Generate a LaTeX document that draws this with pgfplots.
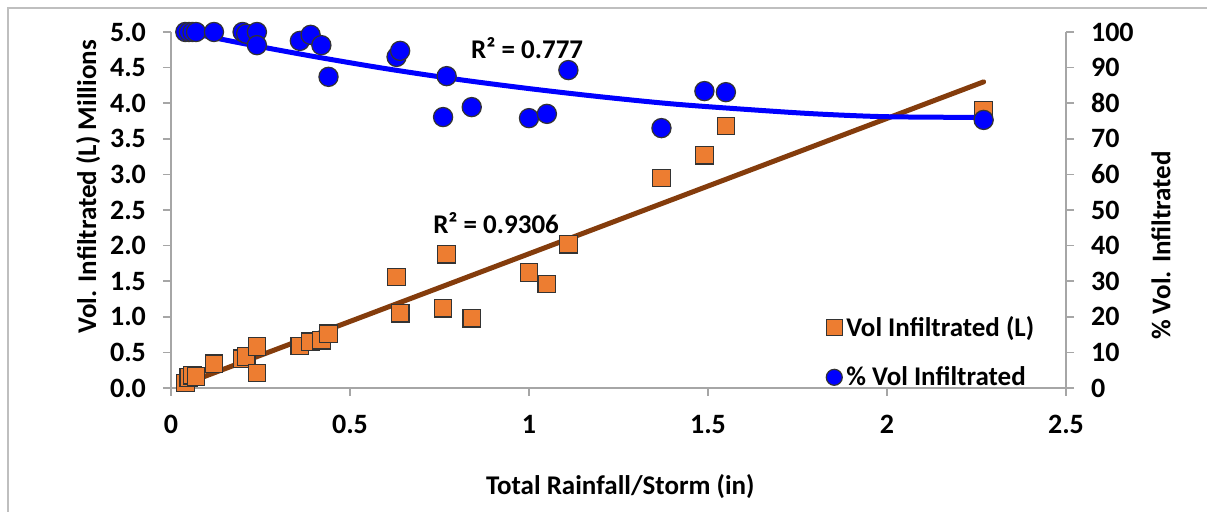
\documentclass[border=0pt]{standalone}
\usepackage{pgfplots}
\pgfplotsset{compat=1.18}
\usepackage{fontspec}
\setmainfont{Carlito}
\definecolor{sqfill}{HTML}{ED7D31}
\definecolor{trendbrown}{HTML}{843C0C}
\definecolor{axgray}{HTML}{A6A6A6}
\definecolor{framegray}{HTML}{BFBFBF}

\pgfplotstableread{
x vol
0.04 0.07
0.05 0.15
0.06 0.18
0.07 0.16
0.12 0.34
0.20 0.41
0.21 0.44
0.24 0.58
0.24 0.21
0.36 0.59
0.39 0.65
0.42 0.67
0.44 0.76
0.63 1.56
0.64 1.05
0.76 1.12
0.77 1.88
0.84 0.98
1.00 1.62
1.05 1.46
1.11 2.02
1.37 2.95
1.49 3.27
1.55 3.68
2.27 3.90
}\voldata

\pgfplotstableread{
x pct
0.04 100
0.05 100
0.06 100
0.07 100
0.12 100
0.20 100
0.21 99.5
0.24 100
0.24 96.3
0.36 97.5
0.39 99.2
0.42 96.3
0.44 87.4
0.63 93.0
0.64 94.7
0.76 76.1
0.77 87.6
0.84 78.9
1.00 75.8
1.05 77.0
1.11 89.3
1.37 73.0
1.49 83.4
1.55 83.1
2.27 75.3
}\pctdata

\begin{document}
\begin{tikzpicture}[font=\bfseries\fontsize{13.5}{16}\selectfont]
\useasboundingbox (0,0) rectangle (603.5pt,256pt);
\draw[framegray, line width=0.8pt] (4pt,0) -- (4pt,252pt) -- (603.5pt,252pt);

\pgfplotsset{
  common/.style={
    at={(85.5pt,62pt)}, anchor=south west, scale only axis,
    width=447.5pt, height=178pt,
    xmin=0, xmax=2.5, clip=false,
    tick align=outside, major tick length=4pt,
    every tick/.style={axgray, line width=0.8pt},
    axis line style={axgray, line width=0.8pt},
    /pgf/number format/assume math mode=true,
    tick label style={font=\bfseries\fontsize{14}{16}\selectfont, text=black},
    label style={font=\bfseries\fontsize{13.5}{16}\selectfont},
  }
}

\begin{axis}[common,
  axis x line*=bottom, axis y line*=left,
  ymin=0, ymax=5,
  xtick={0,0.5,1,1.5,2,2.5},
  ytick={0,0.5,1,1.5,2,2.5,3,3.5,4,4.5,5},
  yticklabel style={/pgf/number format/fixed, /pgf/number format/fixed zerofill,
    /pgf/number format/precision=1, xshift=-5pt},
  xticklabel style={yshift=-6pt},
  xlabel={Total Rainfall/Storm (in)},
  ylabel={Vol. Infiltrated (L) Millions},
  xlabel style={at={(axis description cs:0.502,-0.278)}, anchor=center},
  ylabel style={at={(axis description cs:-0.0927,0.565)}, anchor=center},
]
\addplot[only marks, mark=square*, mark size=4.4pt,
  mark options={fill=sqfill, draw=black!80, line width=0.6pt}] table[x=x, y=vol] {\voldata};
\addplot[trendbrown, line width=2.5pt, line cap=round] coordinates {(0.04,0.06) (2.27,4.30)};
\node at (axis cs:0.908,2.32) {R² = 0.9306};
\end{axis}

\begin{axis}[common,
  axis x line=none, axis y line*=right,
  ymin=0, ymax=100,
  ytick={0,10,20,30,40,50,60,70,80,90,100},
  yticklabel style={xshift=5pt},
  ylabel={\% Vol. Infiltrated},
  ylabel style={at={(axis description cs:1.106,0.40)}, anchor=center},
  legend style={at={(0.725,0.225)}, anchor=north west, draw=none, fill=none,
    row sep=9.5pt, font=\bfseries\fontsize{13.5}{16}\selectfont},
  legend cell align=left,
]
\addlegendimage{only marks, mark=square*, mark size=4pt, mark options={fill=sqfill, draw=black!80, line width=0.6pt}}
\addlegendentry{Vol Infiltrated (L)}
\addlegendimage{only marks, mark=*, mark size=4pt, mark options={fill=blue, draw=black!80, line width=0.6pt}}
\addlegendentry{\% Vol Infiltrated}
\addplot[blue, line width=2.5pt, smooth, line cap=round, forget plot] coordinates {
(0.04,100.0) (0.2,96.8) (0.4,93.1) (0.6,89.7) (0.8,86.7) (1.0,84.1) (1.2,81.8) (1.4,79.8) (1.6,78.3) (1.8,77.0) (2.0,76.2) (2.27,76.0)};
\addplot[only marks, mark=*, mark size=4.8pt, forget plot,
  mark options={fill=blue, draw=black!80, line width=0.6pt}] table[x=x, y=pct] {\pctdata};
\node at (axis cs:0.995,95.6) {R² = 0.777};
\end{axis}
\end{tikzpicture}
\end{document}
